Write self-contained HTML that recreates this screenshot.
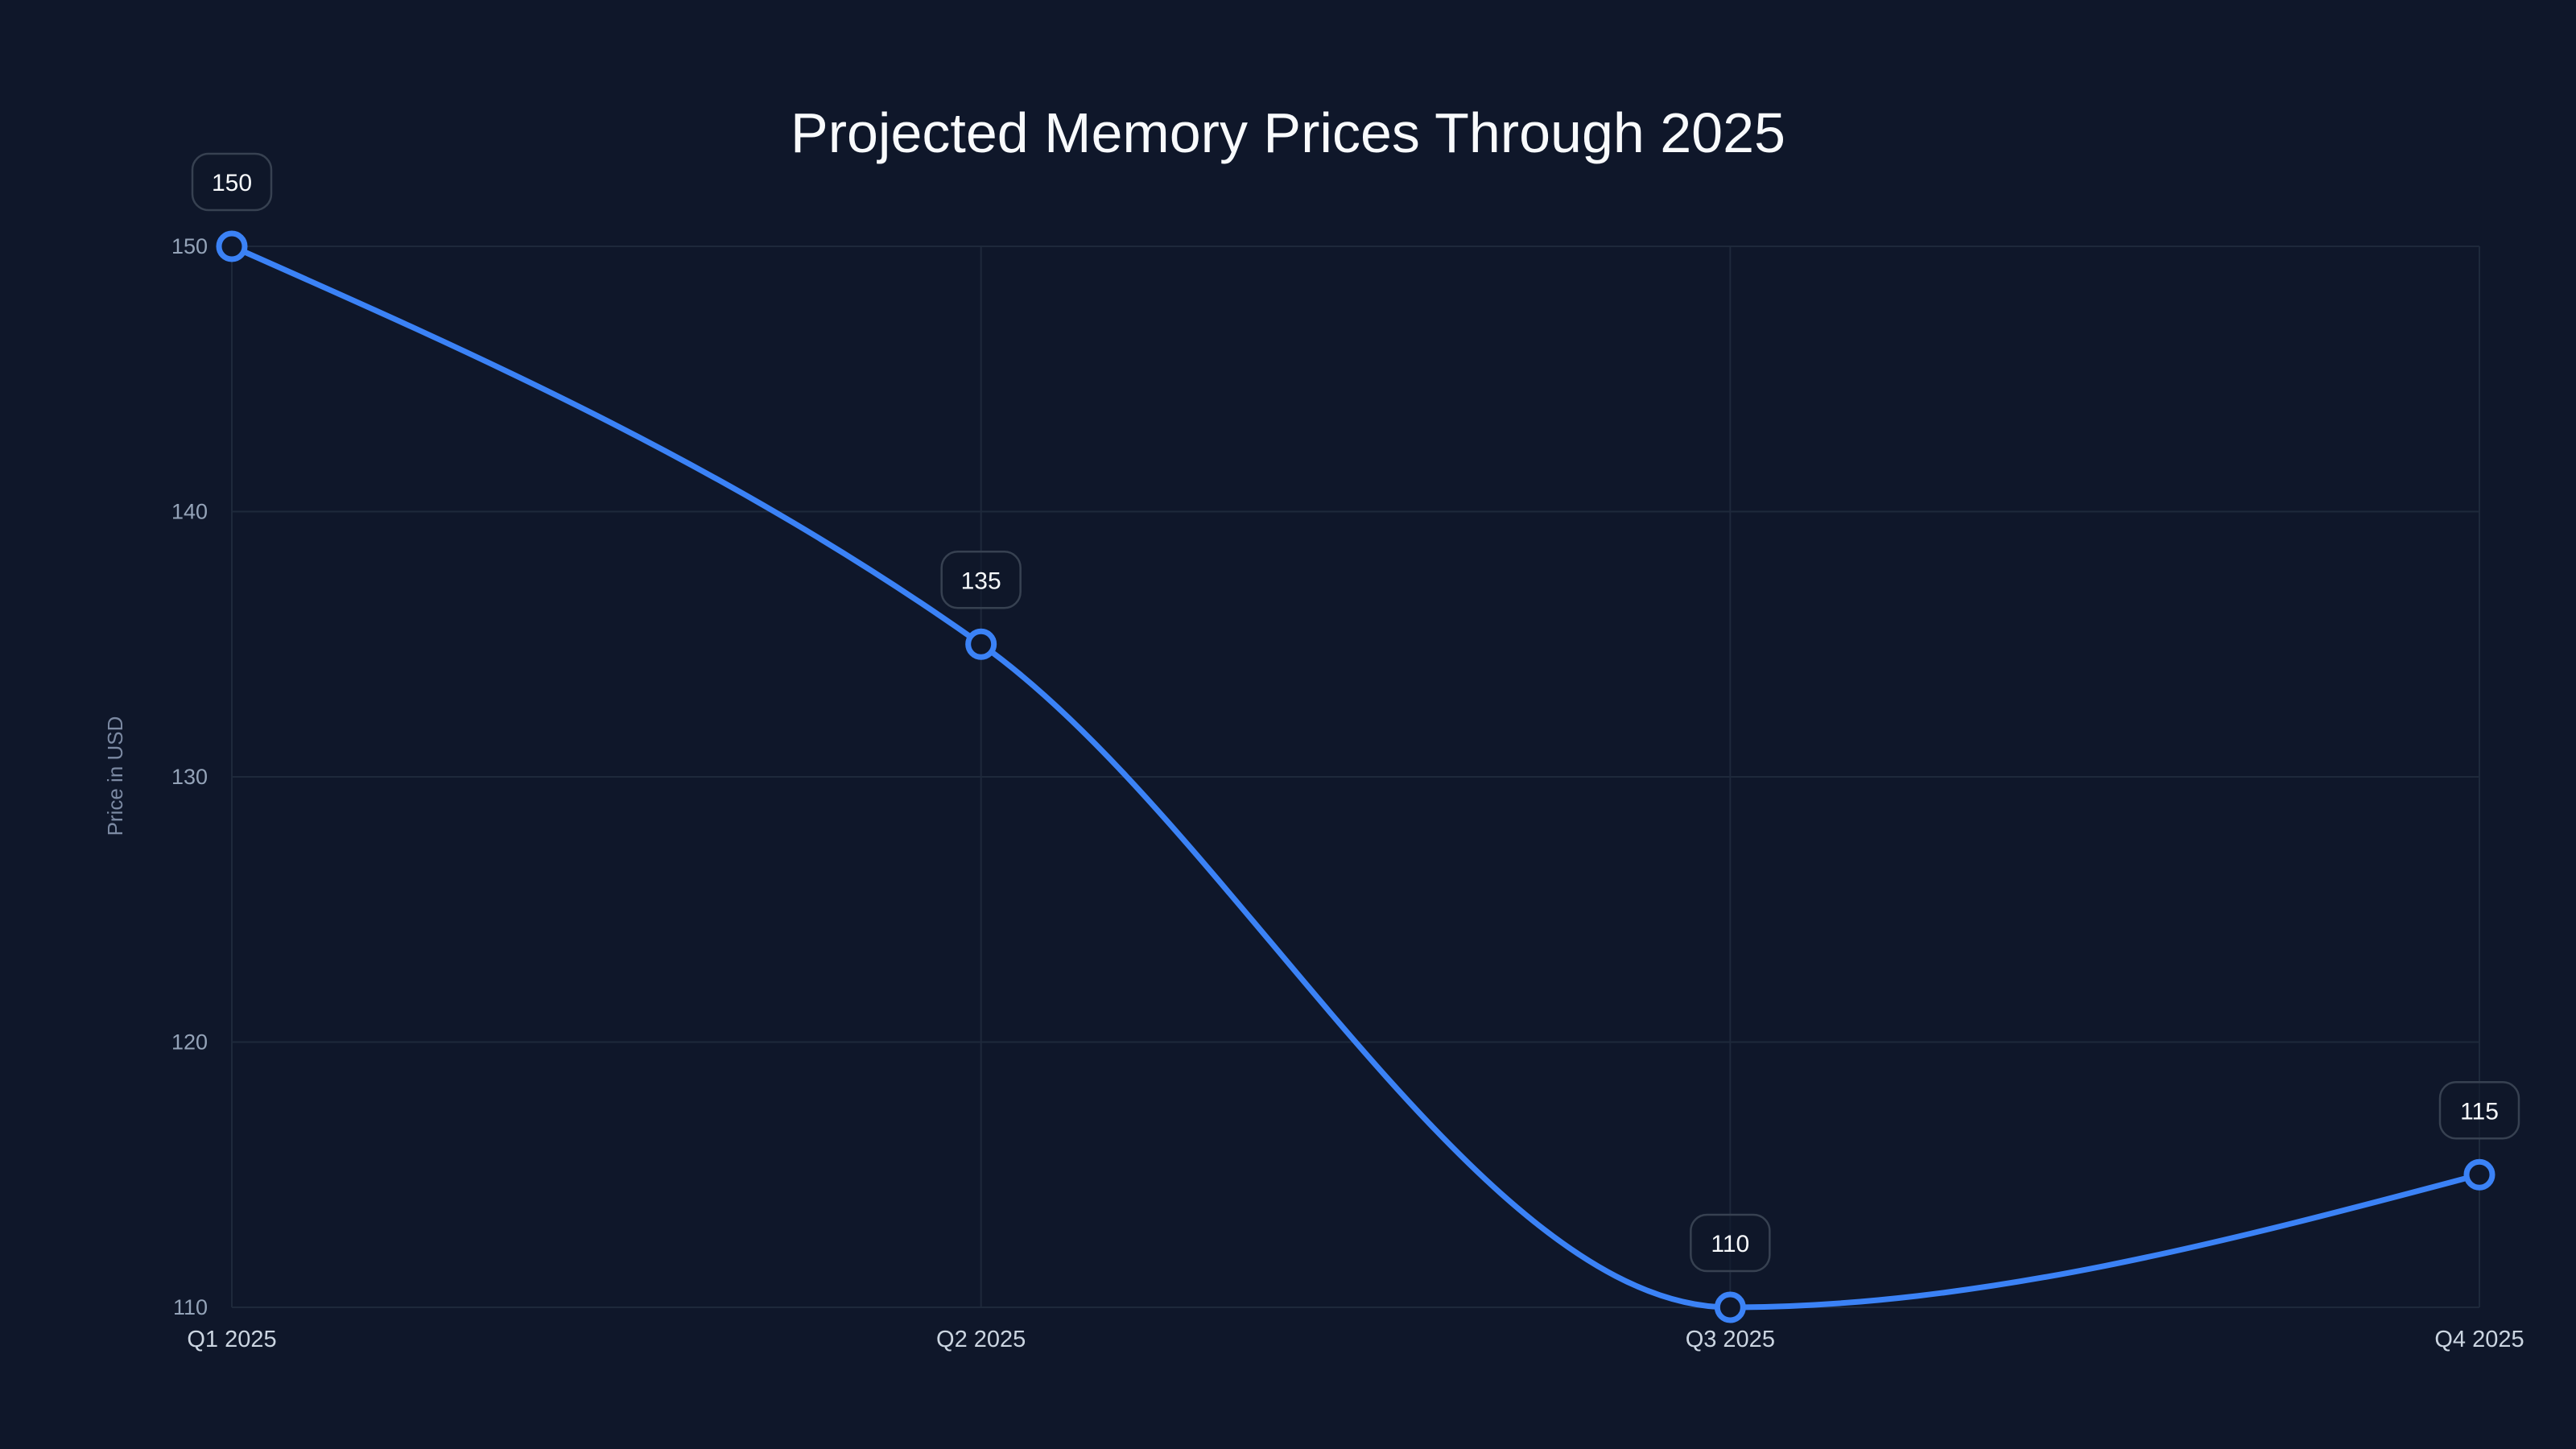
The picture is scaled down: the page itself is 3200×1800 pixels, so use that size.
<!DOCTYPE html>
<html><head><meta charset="utf-8"><style>
html,body{margin:0;padding:0;background:#0f172a;}
svg{display:block;font-family:"Liberation Sans",sans-serif;}
</style></head><body>
<svg id="chart" width="3200" height="1800" viewBox="0 0 3200 1800">
<rect width="3200" height="1800" fill="#0f172a"/>
<text x="1600" y="189" text-anchor="middle" font-size="70" fill="#f8fafc">Projected Memory Prices Through 2025</text>
<text transform="translate(152,964) rotate(-90)" text-anchor="middle" font-size="26" fill="#7c8aa3">Price in USD</text>
<g id="grid"></g><g id="series"></g><g id="labels"></g>
</svg>
<script>
const categories = ["Q1 2025","Q2 2025","Q3 2025","Q4 2025"];
const values = [150,135,110,115];
const yTicks = [110,120,130,140,150];
const L=288,R=3080,T=306,B=1624,yMin=110,yMax=150;
const NS="http://www.w3.org/2000/svg";
const xS=i=>L+(R-L)*i/(categories.length-1);
const yS=v=>B-(v-yMin)/(yMax-yMin)*(B-T);
function mk(tag,attrs,parent){const e=document.createElementNS(NS,tag);for(const k in attrs)e.setAttribute(k,attrs[k]);parent.appendChild(e);return e;}
const grid=document.getElementById('grid'),series=document.getElementById('series'),labels=document.getElementById('labels');
yTicks.forEach(t=>{
  const ln=mk('line',{x1:L,x2:R,y1:yS(t),y2:yS(t),stroke:'#1e293b','stroke-width':2},grid);
  
  
  const tx=mk('text',{x:L-30,y:yS(t)+9,'text-anchor':'end','font-size':27,fill:'#94a3b8'},grid);
  tx.textContent=t;
  
  
});
categories.forEach((c,i)=>{
  const ln=mk('line',{x1:xS(i),x2:xS(i),y1:T,y2:B,stroke:'#1e293b','stroke-width':2},grid);
  
  
  const tx=mk('text',{x:xS(i),y:1673,'text-anchor':'middle','font-size':29,fill:'#cbd5e1'},grid);
  tx.textContent=c;
  
  
});
const px=values.map((v,i)=>xS(i)),py=values.map(v=>yS(v));
const n=px.length,sl=[],tg=[];
for(let i=0;i<n-1;i++)sl.push((py[i+1]-py[i])/(px[i+1]-px[i]));
for(let i=0;i<n;i++){
  if(i===0||i===n-1)continue;
  const s0=sl[i-1],s1=sl[i],h0=px[i]-px[i-1],h1=px[i+1]-px[i];
  const p=(s0*h1+s1*h0)/(h0+h1);
  tg[i]=(Math.sign(s0)+Math.sign(s1))*Math.min(Math.abs(s0),Math.abs(s1),0.5*Math.abs(p))||0;
}
tg[0]=n>1?(3*sl[0]-tg[1])/2:0;
tg[n-1]=(3*sl[n-2]-tg[n-2])/2;
let d=`M${px[0]},${py[0]}`;
for(let i=0;i<n-1;i++){const h=(px[i+1]-px[i])/3;d+=`C${px[i]+h},${py[i]+h*tg[i]} ${px[i+1]-h},${py[i+1]-h*tg[i+1]} ${px[i+1]},${py[i+1]}`;}
const path=mk('path',{d:d,fill:'none',stroke:'#3b82f6','stroke-width':7,'stroke-linecap':'round'},series);


values.forEach((v,i)=>{
  const c=mk('circle',{cx:xS(i),cy:yS(v),r:16,fill:'#0f172a',stroke:'#3b82f6','stroke-width':7},series);
  
  
  const r=mk('rect',{x:xS(i)-49,y:yS(v)-115,width:98,height:70,rx:20,fill:'rgba(15,23,42,0.6)',stroke:'#374151','stroke-width':2.5},labels);
  
  
  const t=mk('text',{x:xS(i),y:yS(v)-69,'text-anchor':'middle','font-size':30,fill:'#f8fafc'},labels);
  t.textContent=v;
  
  
});
</script>
</body></html>
